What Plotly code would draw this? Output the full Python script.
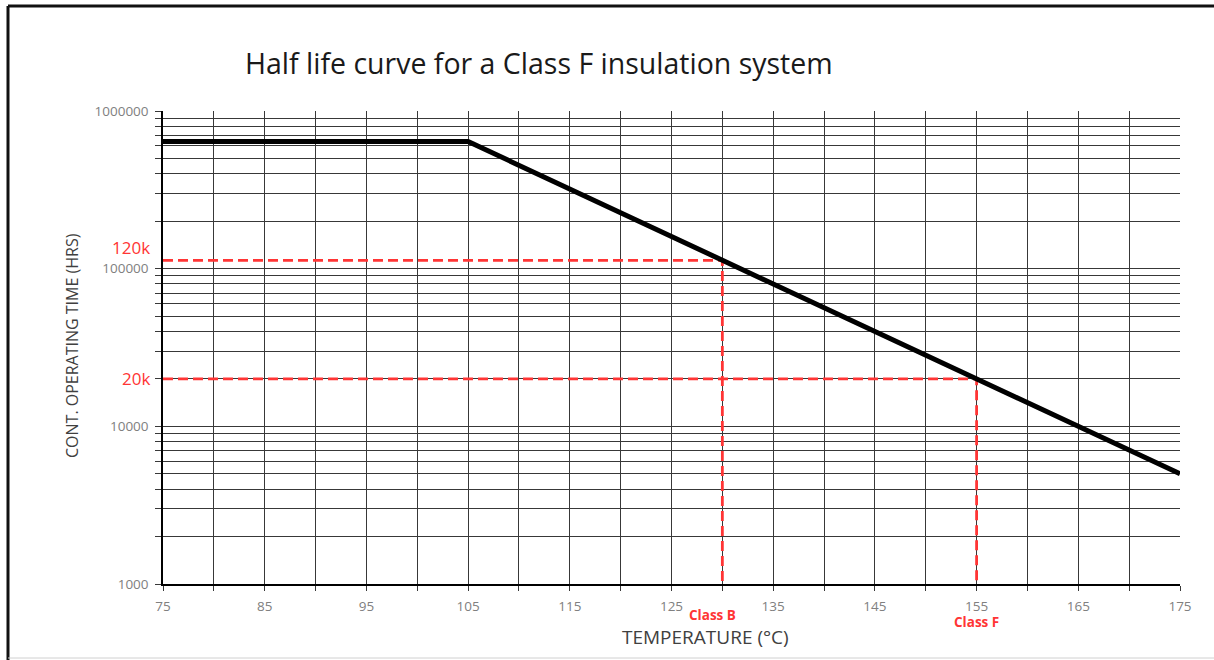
import math
import plotly.graph_objects as go

# ---- data ----
curve_temps = [75, 105, 175]
curve_hours = [640000, 640000, 5000]
class_temps = [130, 155]
class_hours = [113000, 20000]
class_names = ["Class B", "Class F"]
hour_labels = ["120k", "20k"]
hour_label_pos = [137000, 20000]
x_ticks = [75, 85, 95, 105, 115, 125, 135, 145, 155, 165, 175]
y_ticks = [1000, 10000, 100000, 1000000]
y_tick_text = ["1000", "10000", "100000", "1000000"]

# ---- styling ----
RED = "#FF3535"
GRID = "#383838"
FONT = "Open Sans"
W, H = 1214, 660
L, R, T, B = 163, 1180, 111, 584
class_label_xshift = [-10, 0]
class_label_ypx = [615, 622]

def px(xp):
    return (xp - L) / (R - L)

def py(yp):
    return (B - yp) / (B - T)

fig = go.Figure()

for t, h in zip(class_temps, class_hours):
    fig.add_trace(go.Scatter(
        x=[curve_temps[0], t, t], y=[h, h, y_ticks[0]],
        mode="lines", line=dict(color=RED, width=2.8, dash="10px,5px"),
        hoverinfo="skip", showlegend=False, cliponaxis=False))

fig.add_trace(go.Scatter(
    x=curve_temps, y=curve_hours, mode="lines",
    line=dict(color="black", width=5), showlegend=False))

anns = []
for lab, hp in zip(hour_labels, hour_label_pos):
    anns.append(dict(text=lab, xref="paper", x=px(152), xanchor="right",
                     yref="y", y=math.log10(hp), yanchor="middle",
                     showarrow=False, font=dict(color=RED, size=17, family=FONT)))
for t, name, xs, yy in zip(class_temps, class_names, class_label_xshift, class_label_ypx):
    anns.append(dict(text="<b>" + name + "</b>", xref="x", x=t, xshift=xs, xanchor="center",
                     yref="paper", y=py(yy), yanchor="middle", showarrow=False,
                     font=dict(color=RED, size=13.5, family=FONT)))
anns.append(dict(text="TEMPERATURE (°C)", xref="paper", x=px(705), xanchor="center",
                 yref="paper", y=py(637), yanchor="middle", showarrow=False,
                 font=dict(color="#404040", size=19, family=FONT)))
anns.append(dict(text="CONT. OPERATING TIME (HRS)", xref="paper", x=px(72), xanchor="center",
                 yref="paper", y=py(346), yanchor="middle", showarrow=False, textangle=-90,
                 font=dict(color="#404040", size=16, family=FONT)))
anns.append(dict(text="Half life curve for a Class F insulation system", xref="paper", x=px(539),
                 xanchor="center", yref="paper", y=py(63), yanchor="middle", showarrow=False,
                 font=dict(color="#1a1a1a", size=28.5, family=FONT)))

fig.update_layout(
    width=W, height=H,
    margin=dict(l=L, r=W - R, t=T, b=H - B),
    paper_bgcolor="white", plot_bgcolor="white",
    annotations=anns,
    shapes=[
        dict(type="line", xref="paper", yref="paper", x0=px(8), x1=px(1220), y0=py(6), y1=py(6),
             line=dict(color="#111", width=3)),
        dict(type="line", xref="paper", yref="paper", x0=px(8), x1=px(8), y0=py(6), y1=py(662),
             line=dict(color="#111", width=3)),
        dict(type="line", xref="paper", yref="paper", x0=px(8), x1=px(1220), y0=py(658), y1=py(658),
             line=dict(color="#d0d0d0", width=1)),
    ],
    xaxis=dict(range=[75, 175], tickvals=x_ticks, showgrid=True, gridcolor=GRID,
               gridwidth=1.4, ticks="outside", ticklen=5, tickcolor=GRID,
               showline=True, linecolor="black", linewidth=1.5, zeroline=False,
               ticklabelstandoff=4,
               tickfont=dict(color="#808080", size=13.5, family=FONT),
               minor=dict(dtick=5, tick0=75, showgrid=True, gridcolor=GRID, gridwidth=1.4,
                          ticks="outside", ticklen=5, tickcolor=GRID)),
    yaxis=dict(type="log", range=[3, 6], tickvals=y_ticks, ticktext=y_tick_text,
               showgrid=True, gridcolor=GRID, gridwidth=1.4, ticks="outside", ticklen=6,
               tickcolor=GRID, showline=True, linecolor="black", linewidth=1.5,
               zeroline=False, ticklabelstandoff=4,
               tickfont=dict(color="#808080", size=13.5, family=FONT),
               minor=dict(dtick="D1", showgrid=True, gridcolor=GRID, gridwidth=1.4,
                          ticks="outside", ticklen=6, tickcolor=GRID)),
)

fig.write_html("out.html", post_script="document.body.style.margin='0';",
               config={"displayModeBar": False})
